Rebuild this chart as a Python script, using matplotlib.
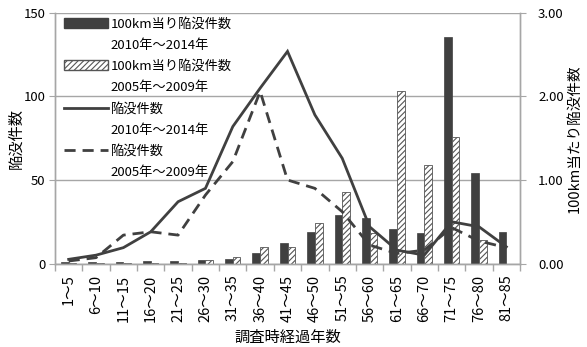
import numpy as np
import matplotlib
matplotlib.use("Agg")
import matplotlib.pyplot as plt
from matplotlib.lines import Line2D
from matplotlib.patches import Rectangle

plt.rcParams['font.family'] = ['Noto Sans CJK JP', 'DejaVu Sans']
plt.rcParams['hatch.linewidth'] = 0.8

categories = ['1～5', '6～10', '11～15', '16～20', '21～25', '26～30', '31～35',
              '36～40', '41～45', '46～50', '51～55', '56～60', '61～65', '66～70',
              '71～75', '76～80', '81～85']

# 100km当り陥没件数 (right axis)
rate_2010_2014 = [0.02, 0.02, 0.02, 0.03, 0.03, 0.04, 0.06, 0.13, 0.24, 0.38,
                  0.58, 0.54, 0.41, 0.37, 2.71, 1.08, 0.38]
rate_2005_2009 = [0.005, 0.005, 0.005, 0.005, 0.005, 0.04, 0.08, 0.20, 0.20, 0.48,
                  0.86, 0.36, 2.07, 1.18, 1.52, 0.28, 0.0]

# 陥没件数 (left axis)
count_2010_2014 = [2.5, 5, 9.5, 19, 37, 45, 82, 105, 127, 89, 63, 22, 8, 5, 25, 22, 10]
count_2005_2009 = [1.5, 3.5, 17, 19, 17, 41, 61, 103, 50, 45, 31, 11, 6, 8, 21.5, 13.5, 9.5]

labels = ['100km当り陥没件数', '2010年～2014年',
          '100km当り陥没件数', '2005年～2009年',
          '陥没件数', '2010年～2014年',
          '陥没件数', '2005年～2009年']

dark = '#404040'
grey = '#a6a6a6'
fs = 9.5

fig = plt.figure(figsize=(5.87, 3.47), dpi=100)
ax = fig.add_axes([0.0937, 0.2406, 0.7922, 0.722])
ax2 = ax.twinx()

x = np.arange(len(categories))
w = 0.28

# bars on the right axis
ax2.bar(x - w / 2, rate_2010_2014, w, color=dark, edgecolor=dark, linewidth=0.5)
ax2.bar(x + w / 2, rate_2005_2009, w, color='white', edgecolor='#555555',
        linewidth=0.6, hatch='//////')
ax2.set_ylim(0, 3)
ax2.set_yticks([0, 1, 2, 3])
ax2.set_yticklabels(['%.2f' % v for v in [0, 1, 2, 3]])
ax2.grid(axis='y', color=grey, linewidth=1.0)
ax2.set_axisbelow(True)
ax2.set_ylabel('100km当たり陥没件数', fontsize=10.5, color='black', labelpad=3)

# lines on the left axis, drawn above the bars
l1, = ax.plot(x, count_2010_2014, color=dark, linewidth=2.0, solid_joinstyle='miter')
l2, = ax.plot(x, count_2005_2009, color=dark, linewidth=2.0, dashes=(4, 2.5))
ax.set_ylim(0, 150)
ax.set_yticks([0, 50, 100, 150])
ax.set_ylabel('陥没件数', fontsize=11, color='black', labelpad=-1)
ax.set_xlabel('調査時経過年数', fontsize=11, color='black', labelpad=5)
ax.set_zorder(ax2.get_zorder() + 1)
ax.patch.set_visible(False)

ax.set_xlim(-0.5, len(categories) - 0.5)
ax.set_xticks(x)
ax.set_xticklabels(categories, rotation=90, fontsize=10.5)
ax.set_xticks(np.arange(len(categories) + 1) - 0.5, minor=True)
ax.tick_params(axis='x', which='major', length=0, pad=8)
ax.tick_params(axis='x', which='minor', length=5, color=grey, width=1)
ax.tick_params(axis='y', length=4, color=grey, labelsize=fs, pad=3)
ax2.tick_params(axis='y', length=4, color=grey, labelsize=fs, pad=9)

for a in (ax, ax2):
    a.spines['top'].set_visible(False)
    for s in ('left', 'right', 'bottom'):
        a.spines[s].set_color(grey)
        a.spines[s].set_linewidth(1.0)

# legend rows: first line of each label carries the handle
blank = Line2D([], [], linestyle='none')
bar_h1 = Rectangle((0, 0), 1, 1, facecolor=dark, edgecolor=dark)
bar_h2 = Rectangle((0, 0), 1, 1, facecolor='white', edgecolor='#555555', hatch='//////')
handles = [bar_h1, blank, bar_h2, blank, l1, blank, l2, blank]
ax.legend(handles, labels, loc='upper left', bbox_to_anchor=(0.0, 1.02),
          frameon=False, fontsize=fs, handlelength=3.3, handleheight=0.8,
          handletextpad=0.2, labelspacing=0.63, borderaxespad=0.3)

fig.savefig('out.png', dpi=100)
